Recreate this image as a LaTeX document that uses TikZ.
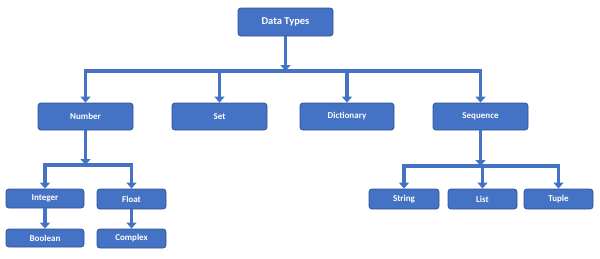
\documentclass[tikz,border=0pt]{standalone}
\usepackage{fontspec}
\setmainfont{Carlito}
\usetikzlibrary{arrows.meta}
\definecolor{boxblue}{RGB}{68,114,196}
\definecolor{edgeblue}{RGB}{47,82,143}
\begin{document}
\begin{tikzpicture}[x=1pt, y=-1pt,
    typebox/.style={draw=edgeblue, line width=0.8pt, fill=boxblue, rounded corners=3pt,
      text=white, font=\bfseries\fontsize{9}{10}\selectfont, inner sep=0pt},
    link/.style={draw=boxblue, line width=3.6pt, line join=miter,
      -{Triangle[width=10pt, length=6pt]}}]
    \useasboundingbox (0,0) rectangle (600,258);
    % top level
    \node[typebox, minimum width=95, minimum height=28, font=\bfseries\fontsize{10.5}{12}\selectfont] (dt) at (285.5, 22) {Data Types};
    \node[typebox, minimum width=95, minimum height=27] (num) at (85.5, 116.5) {Number};
    \node[typebox, minimum width=95, minimum height=27] (set) at (219.5, 116.5) {Set};
    \node[typebox, minimum width=94, minimum height=27] (dict) at (347, 116.5) {Dictionary};
    \node[typebox, minimum width=95, minimum height=27] (seq) at (480.5, 116.5) {Sequence};
    % number branch
    \node[typebox, minimum width=78, minimum height=19] (int) at (45, 198.5) {Integer};
    \node[typebox, minimum width=69, minimum height=20] (flt) at (131.5, 199) {Float};
    \node[typebox, minimum width=78, minimum height=18] (bool) at (45, 238) {Boolean};
    \node[typebox, minimum width=69, minimum height=19] (cplx) at (131.5, 238.5) {Complex};
    % sequence branch
    \node[typebox, minimum width=70, minimum height=20] (str) at (404, 199) {String};
    \node[typebox, minimum width=69, minimum height=20] (lst) at (482.5, 199) {List};
    \node[typebox, minimum width=69, minimum height=20] (tpl) at (558.5, 199) {Tuple};
    % bars
    \coordinate (topbar) at (285.5, 71);
    \coordinate (numbar) at (85.5, 165);
    \coordinate (seqbar) at (480.5, 166);
    \draw[link] (dt.south) -- (topbar);
    \foreach \n in {num, set, dict, seq} \draw[link] (topbar) -| (\n.north);
    \draw[link] (num.south) -- (numbar);
    \foreach \n in {int, flt} \draw[link] (numbar) -| (\n.north);
    \draw[link] (int.south) -- (bool.north);
    \draw[link] (flt.south) -- (cplx.north);
    \draw[link] (seq.south) -- (seqbar);
    \foreach \n in {str, lst, tpl} \draw[link] (seqbar) -| (\n.north);
\end{tikzpicture}
\end{document}
